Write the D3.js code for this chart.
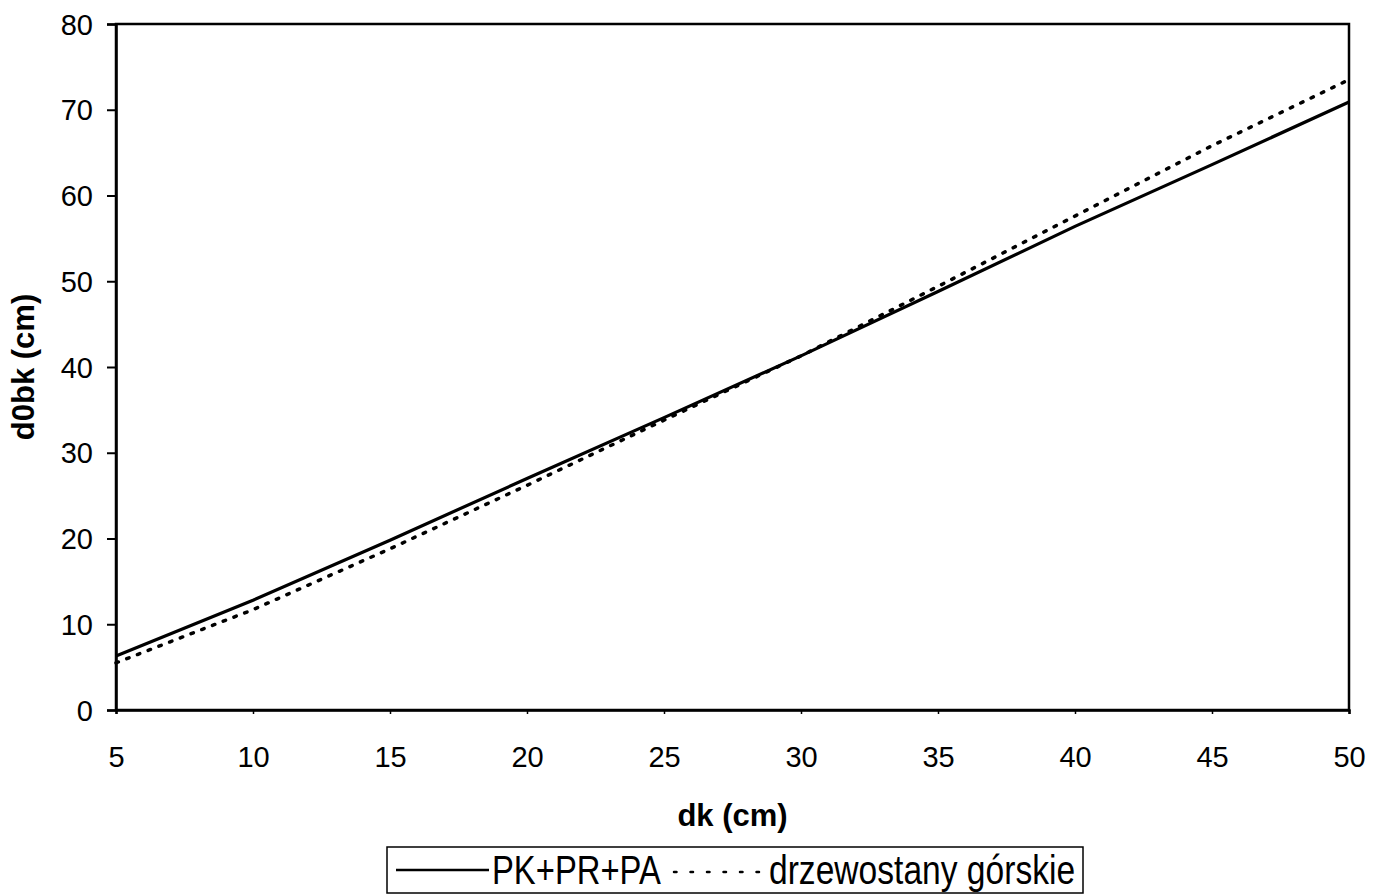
<!DOCTYPE html>
<html>
<head>
<meta charset="utf-8">
<script src="https://cdn.jsdelivr.net/npm/d3@7"></script>
<style>
  body { margin: 0; background: #fff; }
  svg { font-family: "Liberation Sans", Arial, sans-serif; }
</style>
</head>
<body>
<svg id="chart" width="1382" height="895"></svg>
<script>
// dk (cm) and d0bk (cm)
const dk = [5, 10, 15, 20, 25, 30, 35, 40, 45, 50];
const pkPrPa = [6.3, 12.8, 19.8, 27.0, 34.1, 41.3, 48.8, 56.4, 63.6, 70.9];
const gorskie = [5.5, 11.7, 18.8, 26.2, 33.8, 41.3, 49.4, 57.6, 65.8, 73.5];
const xTicks = [5, 10, 15, 20, 25, 30, 35, 40, 45, 50];
const yTicks = [0, 10, 20, 30, 40, 50, 60, 70, 80];

const svg = d3.select("#chart");
const plotLeft = 116, plotRight = 1349, plotTop = 24, plotBottom = 710;

const x = d3.scaleLinear().domain([5, 50]).range([plotLeft, plotRight]);
const y = d3.scaleLinear().domain([0, 80]).range([plotBottom, plotTop]);

// plot frame
svg.append("rect")
    .attr("x", plotLeft).attr("y", plotTop)
    .attr("width", plotRight - plotLeft).attr("height", plotBottom - plotTop)
    .attr("fill", "none").attr("stroke", "#000").attr("stroke-width", 2.5);

// y axis
const yAxis = svg.append("g")
    .attr("transform", `translate(${plotLeft},0)`)
    .call(d3.axisLeft(y).tickValues(yTicks).tickSize(9).tickPadding(14));
yAxis.select(".domain").attr("stroke-width", 2.5);
yAxis.selectAll("line").attr("stroke-width", 2);
yAxis.selectAll("text").attr("font-size", 29).attr("fill", "#000")
    .attr("dy", "0.35em")
    .attr("font-family", "Liberation Sans, Arial, sans-serif");

// x axis
const xAxis = svg.append("g")
    .attr("transform", `translate(0,${plotBottom})`)
    .call(d3.axisBottom(x).tickValues(xTicks).tickSize(4).tickPadding(32));
xAxis.select(".domain").attr("stroke-width", 2.5);
xAxis.selectAll("line").attr("stroke-width", 1.5);
xAxis.selectAll("text").attr("font-size", 29).attr("fill", "#000")
    .attr("font-family", "Liberation Sans, Arial, sans-serif");

// axis titles
svg.append("text")
    .attr("x", (plotLeft + plotRight) / 2).attr("y", 826)
    .attr("text-anchor", "middle")
    .attr("font-size", 31).attr("font-weight", "bold")
    .text("dk (cm)");

svg.append("text")
    .attr("transform", `translate(34,${(plotTop + plotBottom) / 2}) rotate(-90)`)
    .attr("text-anchor", "middle")
    .attr("font-size", 31).attr("font-weight", "bold")
    .text("d0bk (cm)");

// lines
const line = d3.line().x((d, i) => x(dk[i])).y(d => y(d));

svg.append("path")
    .datum(gorskie)
    .attr("d", line)
    .attr("fill", "none").attr("stroke", "#000")
    .attr("stroke-width", 3.5)
    .attr("stroke-linecap", "round")
    .attr("stroke-dasharray", "2.5,9");

svg.append("path")
    .datum(pkPrPa)
    .attr("d", line)
    .attr("fill", "none").attr("stroke", "#000")
    .attr("stroke-width", 3.2);

// legend
const legend = svg.append("g");
legend.append("rect")
    .attr("x", 387).attr("y", 847)
    .attr("width", 696).attr("height", 46)
    .attr("fill", "#fff").attr("stroke", "#000").attr("stroke-width", 1.5);

legend.append("line")
    .attr("x1", 396).attr("x2", 489).attr("y1", 870).attr("y2", 870)
    .attr("stroke", "#000").attr("stroke-width", 2.5);
legend.append("text")
    .attr("transform", "translate(492,884) scale(0.82,1)")
    .attr("font-size", 40)
    .text("PK+PR+PA");

legend.append("line")
    .attr("x1", 674).attr("x2", 766).attr("y1", 872).attr("y2", 872)
    .attr("stroke", "#000").attr("stroke-width", 2.5)
    .attr("stroke-linecap", "round")
    .attr("stroke-dasharray", "2.5,14");
legend.append("text")
    .attr("transform", "translate(769,884) scale(0.84,1)")
    .attr("font-size", 40)
    .text("drzewostany górskie");
</script>
</body>
</html>
